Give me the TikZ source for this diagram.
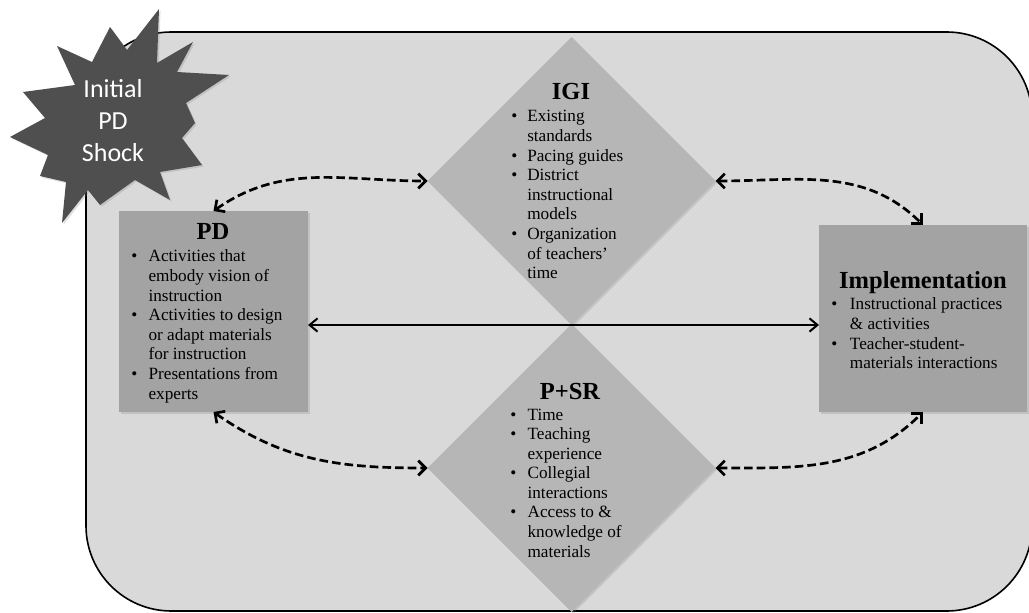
\documentclass[tikz,border=0pt]{standalone}
\usepackage{fontspec}
\setmainfont{Liberation Serif}
\newfontfamily\shockfont{Carlito}
\usetikzlibrary{arrows.meta,shadows,shapes.geometric}
\definecolor{bggray}{HTML}{D9D9D9}
\definecolor{boxgray}{HTML}{A3A3A3}
\definecolor{diagray}{HTML}{B6B6B6}
\definecolor{stargray}{HTML}{4F4F4F}
\newcommand{\hdfont}{\fontsize{18.4}{20}\selectfont\bfseries}
\newcommand{\bdfont}{\fontsize{12.9}{14.7}\selectfont}
\begin{document}
\begin{tikzpicture}[x=0.75pt,y=-0.75pt,
  softshadow/.style={drop shadow={opacity=0.25,shadow xshift=1.2pt,shadow yshift=-1.2pt}},
  boxnode/.style={rectangle,fill=boxgray,draw=none,inner sep=0pt,outer sep=0pt,softshadow},
  dianode/.style={diamond,aspect=1,fill=diagray,draw=none,inner sep=0pt,outer sep=0pt,
     minimum width=216pt,minimum height=216pt,softshadow},
  titletext/.style={anchor=base,inner sep=0pt,font=\hdfont},
  listtext/.style={anchor=base west,inner sep=0pt,font=\bdfont},
  dasharrow/.style={line width=2pt,dash pattern=on 6.5pt off 3pt,
     {Straight Barb[length=5.5pt,width=11pt]}-{Straight Barb[length=5.5pt,width=11pt]}},
  solidarrow/.style={line width=1.5pt,
     {Straight Barb[length=6pt,width=10pt]}-{Straight Barb[length=6pt,width=10pt]}}]
\useasboundingbox (0,0) rectangle (1029,613);
\clip (0,0) rectangle (1029,613);
% background frame
\draw[fill=bggray,line width=1.2pt,rounded corners=64pt] (86,32) rectangle (1032,611);
% starburst
\fill[stargray,softshadow] (159,9) -- (157,63) -- (193,42) -- (177,72) -- (229,75)
  -- (186,103) -- (195,123) -- (182,138) -- (202,165) -- (160,172) -- (170,200)
  -- (135,180) -- (100,205) -- (88,190) -- (62,223) -- (66,182) -- (40,176)
  -- (48,155) -- (10,137) -- (45,118) -- (23,92) -- (75,85) -- (57,46)
  -- (92,62) -- (110,27) -- (127,50) -- cycle;
\node[anchor=base,inner sep=0pt,text=white,font=\shockfont\fontsize{19.5}{24}\selectfont] (shock) at (113,98)
  {\begin{tabular}[t]{@{}c@{}}Initial\\PD\\Shock\end{tabular}};
% diamonds
\node[dianode] (igi) at (571.5,181) {};
\node[dianode] (psr) at (571.5,468) {};
% boxes
\node[boxnode,minimum width=141.75pt,minimum height=150.75pt] (pd) at (213.5,311.5) {};
\node[boxnode,minimum width=156pt,minimum height=140.25pt] (impl) at (923,318.5) {};
% texts
\node[titletext] (pdtitle) at (213,240) {PD};
\node[listtext] (pdlist) at (131,262) {\begin{tabular}[t]{@{}p{13pt}@{}l@{}}
  \textbullet & Activities that\\ & embody vision of\\ & instruction\\
  \textbullet & Activities to design\\ & or adapt materials\\ & for instruction\\
  \textbullet & Presentations from\\ & experts\end{tabular}};
\node[titletext] (igititle) at (571,100) {IGI};
\node[listtext] (igilist) at (511,122) {\begin{tabular}[t]{@{}p{12pt}@{}l@{}}
  \textbullet & Existing\\ & standards\\
  \textbullet & Pacing guides\\
  \textbullet & District\\ & instructional\\ & models\\
  \textbullet & Organization\\ & of teachers’\\ & time\end{tabular}};
\node[titletext] (psrtitle) at (570,399) {P+SR};
\node[listtext] (psrlist) at (510,420) {\begin{tabular}[t]{@{}p{13pt}@{}l@{}}
  \textbullet & Time\\
  \textbullet & Teaching\\ & experience\\
  \textbullet & Collegial\\ & interactions\\
  \textbullet & Access to \&\\ & knowledge of\\ & materials\end{tabular}};
\node[titletext] (impltitle) at (923,288) {Implementation};
\node[listtext] (impllist) at (831,310) {\begin{tabular}[t]{@{}p{14pt}@{}l@{}}
  \textbullet & Instructional practices\\ & \& activities\\
  \textbullet & Teacher-student-\\ & materials interactions\end{tabular}};
% connectors
\draw[solidarrow] (pd.east |- igi.south) -- (impl.west |- igi.south);
\draw[dasharrow] (pd.north) to[out=35,in=180] (igi.west);
\draw[dasharrow] (igi.east) to[out=0,in=135] (impl.north);
\draw[dasharrow] (pd.south) to[out=-35,in=180] (psr.west);
\draw[dasharrow] (psr.east) to[out=0,in=-135] (impl.south);
\end{tikzpicture}
\end{document}
